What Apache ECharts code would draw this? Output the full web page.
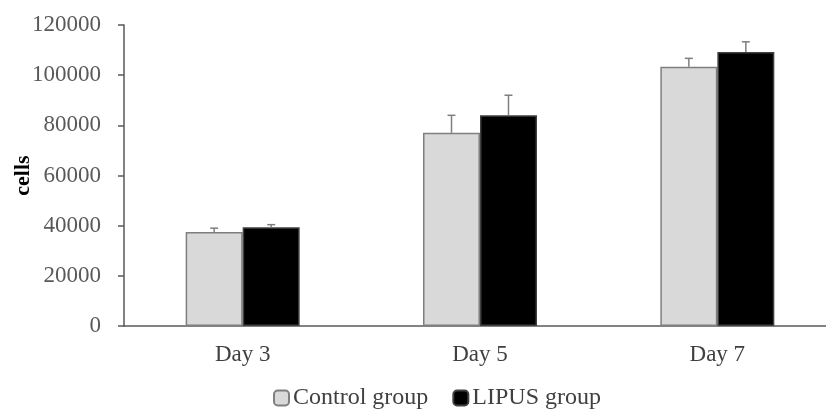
<!DOCTYPE html>
<html lang="en">

<head>
    <meta charset="UTF-8">
    <title>cells</title>
    <style>
        body { margin: 0; background: #fff; }
        .div { width: 826px; height: 409px; }
    </style>
</head>

<body>
    <div class="div"></div>
    <script src="https://cdn.jsdelivr.net/npm/echarts@6/dist/echarts.min.js"></script>
    <script>
        var days = ['Day 3', 'Day 5', 'Day 7']
        var controlData = [37500, 77000, 103400]
        var controlErr = [1500, 7000, 3300]
        var lipusData = [39400, 84000, 109200]
        var lipusErr = [1000, 8000, 4100]
        var yTicks = [0, 20000, 40000, 60000, 80000, 100000, 120000]

        var font = '"Liberation Serif", "Times New Roman", serif'
        var barW = 57
        var myecharts = echarts.init(document.getElementsByClassName('div')[0]);

        // 误差线 (only the upper half, with a cap)
        function errorSeries(name, vals, errs, offset) {
            return {
                name: name + ' err',
                type: 'custom',
                z: 5,
                data: vals.map(function (v, i) { return [i, v, v + errs[i]] }),
                renderItem: function (params, api) {
                    var lo = api.coord([api.value(0), api.value(1)])
                    var hi = api.coord([api.value(0), api.value(2)])
                    var x = lo[0] + offset
                    var style = { stroke: '#7f7f7f', lineWidth: 1.5 }
                    return {
                        type: 'group',
                        children: [
                            { type: 'line', shape: { x1: x, y1: lo[1], x2: x, y2: hi[1] }, style: style },
                            { type: 'line', shape: { x1: x - 4, y1: hi[1], x2: x + 4, y2: hi[1] }, style: style }
                        ]
                    }
                }
            }
        }

        var option = {
            animation: false,
            textStyle: { fontFamily: font },
            // the original plot runs past the right edge of the picture
            grid: { left: 124, right: -10, top: 25, bottom: 83, outerBoundsMode: 'none', containLabel: false },
            legend: {
                top: 381,
                left: 268,
                itemWidth: 15,
                itemHeight: 15,
                itemGap: 24,
                data: ['Control group', 'LIPUS group'],
                textStyle: { fontFamily: font, fontSize: 24, color: '#404040', padding: [0, 0, 0, -1] }
            },
            xAxis: {
                type: 'category',
                data: days,
                axisLine: { lineStyle: { color: '#595959', width: 1.5 } },
                axisTick: { show: false },
                axisLabel: { fontFamily: font, fontSize: 23, color: '#404040', margin: 17 }
            },
            yAxis: {
                type: 'value',
                min: 0,
                max: 120000,
                interval: 20000,
                name: 'cells',
                nameLocation: 'middle',
                nameGap: 90,
                nameMoveOverlap: false,
                nameTextStyle: { fontFamily: font, fontSize: 22, fontWeight: 'bold', color: '#000' },
                axisLine: { show: true, lineStyle: { color: '#595959', width: 1.5 } },
                axisTick: { show: true, length: 6, lineStyle: { color: '#595959', width: 1.5 } },
                splitLine: { show: false },
                axisLabel: {
                    fontFamily: font, fontSize: 23, color: '#595959', margin: 23,
                    formatter: function (v) { return yTicks.indexOf(v) >= 0 ? String(v) : '' }
                }
            },
            series: [
                {
                    name: 'Control group',
                    type: 'bar',
                    data: controlData,
                    barWidth: barW,
                    barGap: '0%',
                    itemStyle: { color: '#d9d9d9', borderColor: '#7f7f7f', borderWidth: 1.5 }
                },
                {
                    name: 'LIPUS group',
                    type: 'bar',
                    data: lipusData,
                    barWidth: barW,
                    barGap: '0%',
                    itemStyle: { color: '#000', borderColor: '#404040', borderWidth: 1.5 }
                },
                errorSeries('Control group', controlData, controlErr, -barW / 2),
                errorSeries('LIPUS group', lipusData, lipusErr, barW / 2)
            ]
        }
        myecharts.setOption(option);
    </script>
</body>

</html>
